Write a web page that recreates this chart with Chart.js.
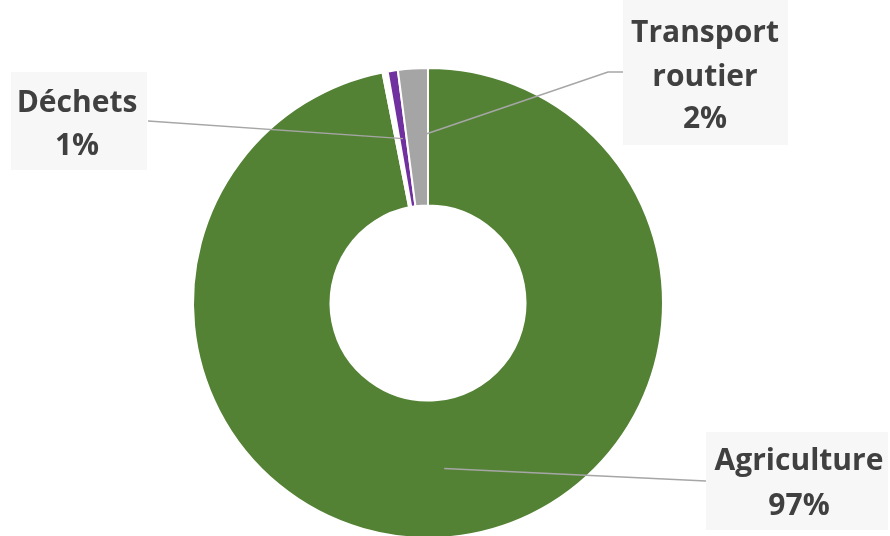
<!DOCTYPE html>
<html>
<head>
<meta charset="utf-8">
<script src="https://cdn.jsdelivr.net/npm/chart.js@4/dist/chart.umd.min.js"></script>
<style>
  html, body { margin: 0; padding: 0; background: #fff; overflow: hidden; }
  #wrap { width: 890px; height: 536px; overflow: hidden; position: relative; }
</style>
</head>
<body>
<div id="wrap"><canvas id="c" width="890" height="560"></canvas></div>
<script>
// Sector shares (percent), clockwise from 12 o'clock
const labels = ["Agriculture", "", "Déchets", "Transport routier"];
const values = [96.9, 0.35, 0.7, 2.05];
const colors = ["#548235", "#ffffff", "#7030a0", "#a5a5a5"];

// Callout boxes: text lines + baselines, box rect, leader path end points
const callouts = [
  { i: 0, lines: ["Agriculture", "97%"], cx: 799, base: [470, 515], box: [706, 432, 182, 98], path: [[706, 481]] },
  { i: 2, lines: ["Déchets", "1%"], cx: 77, base: [112, 155], box: [11, 72, 136, 98], path: [[148, 121]] },
  { i: 3, lines: ["Transport", "routier", "2%"], cx: 705, base: [42, 86, 128], box: [623, -4, 165, 149], path: [[608, 72], [623, 72]] },
];

const calloutPlugin = {
  id: "callouts",
  afterDatasetsDraw(chart) {
    const ctx = chart.ctx;
    const meta = chart.getDatasetMeta(0);
    ctx.save();
    for (const c of callouts) {
      const arc = meta.data[c.i];
      const mid = (arc.startAngle + arc.endAngle) / 2;
      const r = (arc.innerRadius + arc.outerRadius) / 2;
      const sx = arc.x + Math.cos(mid) * r;
      const sy = arc.y + Math.sin(mid) * r;
      const [bx, by, bw, bh] = c.box;
      ctx.fillStyle = "#f7f7f7";
      ctx.fillRect(bx, by, bw, bh);
      ctx.strokeStyle = "#a6a6a6";
      ctx.lineWidth = 1.5;
      ctx.beginPath();
      ctx.moveTo(sx, sy);
      for (const p of c.path) ctx.lineTo(p[0], p[1]);
      ctx.stroke();
      ctx.fillStyle = "#404040";
      ctx.font = "bold 30px 'Open Sans', sans-serif";
      ctx.textAlign = "center";
      ctx.textBaseline = "alphabetic";
      c.lines.forEach((t, k) => ctx.fillText(t, c.cx, c.base[k]));
    }
    ctx.restore();
  },
};

new Chart(document.getElementById("c"), {
  type: "doughnut",
  data: {
    labels,
    datasets: [{
      data: values,
      backgroundColor: colors,
      borderColor: "#ffffff",
      borderWidth: 2,
    }],
  },
  options: {
    responsive: false,
    animation: false,
    cutout: "41.5%",
    layout: { padding: { top: 67, bottom: 21, left: 192, right: 226 } },
    plugins: {
      legend: { display: false },
      tooltip: { enabled: false },
    },
  },
  plugins: [calloutPlugin],
});
</script>
</body>
</html>
